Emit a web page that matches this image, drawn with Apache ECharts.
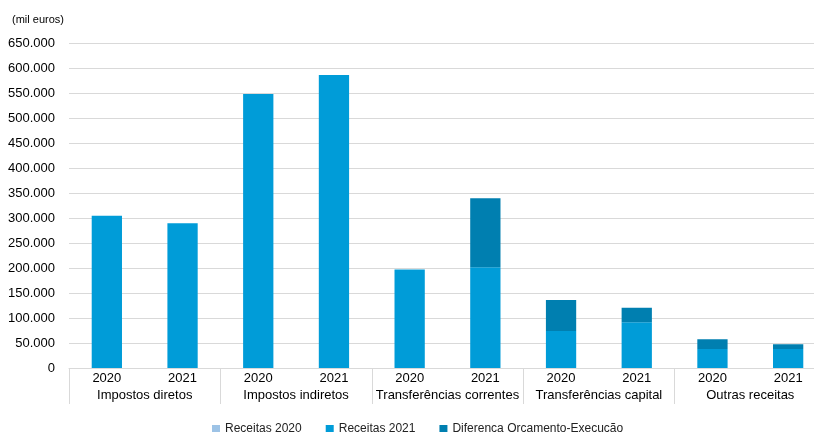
<!DOCTYPE html>
<html>
<head>
<meta charset="utf-8">
<script src="https://cdn.jsdelivr.net/npm/echarts@6/dist/echarts.min.js"></script>
<style>
  html, body { margin: 0; padding: 0; background: #fff; }
  #pic1 { width: 814px; height: 432px; }
</style>
</head>
<body>
<div id="pic1"></div>
<script>
var grupos = ['Impostos diretos', 'Impostos indiretos', 'Transferências correntes', 'Transferências capital', 'Outras receitas'];
var anos = ['2020', '2021', '2020', '2021', '2020', '2021', '2020', '2021', '2020', '2021'];
var yTicks = { min: 0, max: 650000, interval: 50000 };

// valores em mil euros
var receitas2020 = [0, 0, 0, 0, 0, 0, 0, 0, 0, 0];
var receitas2021 = [304500, 289500, 548000, 586000, 197000, 201500, 74000, 91500, 38000, 38000];
var diferenca    = [0, 0, 0, 0, 0, 138000, 62000, 29000, 19500, 9500];

var cores = ['#9dc3e6', '#009cd8', '#007fb0'];
var fonte = 'Liberation Sans, Arial, sans-serif';

function fmt(v) {
    return String(v).replace(/\B(?=(\d{3})+(?!\d))/g, '.');
}

var pic1 = echarts.init(document.getElementById('pic1'));

var option = {
    animation: false,
    color: cores,
    textStyle: { fontFamily: fonte },
    title: {
        text: '(mil euros)',
        left: 7,
        top: 9,
        textStyle: { fontSize: 11, fontWeight: 'normal', color: '#000', fontFamily: fonte }
    },
    legend: {
        top: 418,
        left: 207,
        icon: 'rect',
        itemWidth: 8,
        itemHeight: 8,
        itemGap: 24,
        textStyle: { fontSize: 12, color: '#222', fontFamily: fonte },
        data: ['Receitas 2020', 'Receitas 2021', 'Diferenca Orcamento-Execução']
    },
    grid: { left: 69, width: 757, top: 43, bottom: 64, outerBoundsMode: 'none' },
    xAxis: [
        {
            type: 'category',
            data: anos,
            position: 'bottom',
            axisLine: { show: true, lineStyle: { color: '#d9d9d9' } },
            axisTick: { show: false },
            axisLabel: { color: '#000', fontSize: 13, margin: 4, interval: 0, fontFamily: fonte }
        },
        {
            type: 'category',
            data: grupos,
            position: 'bottom',
            axisLine: { show: false },
            axisTick: { show: true, length: 36, lineStyle: { color: '#d9d9d9' } },
            axisLabel: { color: '#000', fontSize: 13, margin: 21, interval: 0, fontFamily: fonte }
        }
    ],
    yAxis: {
        type: 'value',
        min: yTicks.min,
        max: yTicks.max,
        interval: yTicks.interval,
        axisLine: { show: false },
        axisTick: { show: false },
        splitLine: { lineStyle: { color: '#d9d9d9' } },
        axisLabel: {
            color: '#000', fontSize: 13, margin: 14, fontFamily: fonte,
            formatter: fmt
        }
    },
    series: [
        { name: 'Receitas 2020', type: 'bar', stack: 'total', barWidth: '40%', data: receitas2020 },
        { name: 'Receitas 2021', type: 'bar', stack: 'total', barWidth: '40%', data: receitas2021 },
        { name: 'Diferenca Orcamento-Execução', type: 'bar', stack: 'total', barWidth: '40%', data: diferenca }
    ]
};

pic1.setOption(option);
</script>
</body>
</html>
